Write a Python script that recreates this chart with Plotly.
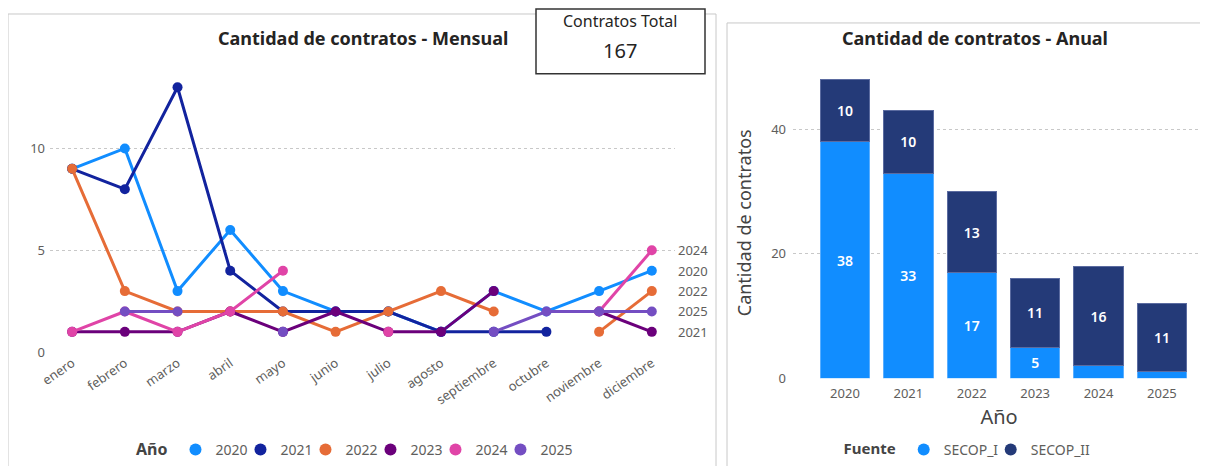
import plotly.graph_objects as go

# la página añade 8 px de margen al body: la figura empieza en (8, 8)
OFF = 8
W, H = 1200, 458

meses = ["enero", "febrero", "marzo", "abril", "mayo", "junio", "julio",
         "agosto", "septiembre", "octubre", "noviembre", "diciembre"]
anios = ["2020", "2021", "2022", "2023", "2024", "2025"]

mensual_2020 = [9, 10, 3, 6, 3, 2, 2, 1, 3, 2, 3, 4]
mensual_2021 = [9, 8, 13, 4, 2, 2, 2, 1, 1, 1, None, None]
mensual_2022 = [9, 3, 2, 2, 2, 1, 2, 3, 2, None, 1, 3]
mensual_2023 = [1, 1, 1, 2, 1, 2, 1, 1, 3, None, 2, 1]
mensual_2024 = [1, 2, 1, 2, 4, None, 1, None, None, None, 2, 5]
mensual_2025 = [None, 2, 2, None, 1, None, None, None, 1, 2, 2, 2]

fuentes = ["SECOP_I", "SECOP_II"]
secop_i = [38, 33, 17, 5, 2, 1]
secop_ii = [10, 10, 13, 11, 16, 11]

colores_anio = ["#118DFF", "#12239E", "#E66C37", "#6B007B", "#E044A7", "#744EC2"]
colores_fuente = ["#118DFF", "#243A78"]

FONT = "Segoe UI, Noto Sans, Open Sans, sans-serif"
GRIS = "#605E5C"
OSCURO = "#252423"


def px(x):
    return (x - OFF) / W


def py(y):
    return 1 - (y - OFF) / H


def texto(x, y, t, size, color=OSCURO):
    fig.add_annotation(x=px(x), y=py(y), xref="paper", yref="paper", text=t,
                       showarrow=False, xanchor="center", yanchor="middle",
                       font=dict(family=FONT, size=size, color=color))


fig = go.Figure()

# ---- mensual (izquierda)
series = [mensual_2020, mensual_2021, mensual_2022, mensual_2023, mensual_2024, mensual_2025]
for i, (anio, vals, c) in enumerate(zip(anios, series, colores_anio)):
    fig.add_trace(go.Scatter(x=meses, y=vals, mode="lines+markers", name=anio,
                             line=dict(color=c, width=3), marker=dict(color=c, size=10),
                             connectgaps=False, cliponaxis=False, showlegend=False,
                             xaxis="x", yaxis="y"))
    # entrada de leyenda (solo círculo); la última necesita sitio para su texto
    fig.add_trace(go.Scatter(x=[None], y=[None], mode="markers", name=anio,
                             marker=dict(color=c, size=12), legend="legend",
                             legendwidth=20 if i < len(anios) - 1 else 40,
                             xaxis="x", yaxis="y"))

# etiquetas al final de cada serie
usados = set()
for anio, vals in zip(anios, series):
    ultimo = [v for v in vals if v is not None][-1]
    if ultimo in usados:
        continue
    usados.add(ultimo)
    fig.add_annotation(x=meses[-1], y=ultimo, xref="x", yref="y", text=anio,
                       showarrow=False, xanchor="left", yanchor="middle", xshift=24,
                       font=dict(family=FONT, size=13, color=GRIS))

# ---- anual (derecha)
txt_i = [str(v) if v >= 5 else "" for v in secop_i]
fig.add_trace(go.Bar(x=anios, y=secop_i, name="SECOP_I", marker_color=colores_fuente[0],
                     marker_line=dict(color="#5AAEFF", width=1),
                     text=txt_i, textposition="inside", insidetextanchor="middle",
                     textfont=dict(family=FONT, size=14, color="white", weight=600),
                     width=0.78, showlegend=False, xaxis="x2", yaxis="y2"))
fig.add_trace(go.Bar(x=anios, y=secop_ii, name="SECOP_II", marker_color=colores_fuente[1],
                     marker_line=dict(color="#5B6BA0", width=1),
                     text=[str(v) for v in secop_ii], textposition="inside",
                     insidetextanchor="middle",
                     textfont=dict(family=FONT, size=14, color="white", weight=600),
                     width=0.78, showlegend=False, xaxis="x2", yaxis="y2"))
for i, (f, c) in enumerate(zip(fuentes, colores_fuente)):
    fig.add_trace(go.Scatter(x=[None], y=[None], mode="markers", name=f,
                             marker=dict(color=c, size=12), legend="legend2",
                             legendwidth=42 if i == 0 else 66,
                             xaxis="x2", yaxis="y2"))

totales = [a + b for a, b in zip(secop_i, secop_ii)]
desplaz_total = [15, 20, 11, 22, 25, 24]
for anio, t, dx in zip(anios, totales, desplaz_total):
    fig.add_annotation(x=anio, y=py(65), xref="x2", yref="paper", text=str(t),
                       showarrow=False, xshift=dx, xanchor="center", yanchor="middle",
                       font=dict(family=FONT, size=12, color=OSCURO))

eje = dict(showline=False, zeroline=False, ticks="", automargin=False,
           tickfont=dict(family=FONT, size=13, color=GRIS))
grid = dict(showgrid=True, gridcolor="#C8C8C8", griddash="dot", gridwidth=1)

fig.update_layout(
    width=W, height=H, margin=dict(l=0, r=0, t=0, b=0),
    paper_bgcolor="white", plot_bgcolor="white",
    font=dict(family=FONT, color=GRIS),
    barmode="stack",
    xaxis=dict(domain=[px(50), px(675)], range=[-0.42, 11.44], showgrid=False,
               tickangle=-35, **eje),
    yaxis=dict(domain=[py(353), py(67)], range=[0, 14], tickvals=[0, 5, 10],
               anchor="x", ticklabelstandoff=4, **grid, **eje),
    xaxis2=dict(domain=[px(793), px(1205)], range=[-0.82, 5.68], showgrid=False,
                anchor="y2", ticklabelstandoff=6,
                title=dict(text="Año", font=dict(family=FONT, size=20, color="#444444"),
                           standoff=8), **eje),
    yaxis2=dict(domain=[py(379), py(67.5)], range=[0, 50], tickvals=[0, 20, 40],
                anchor="x2", ticklabelstandoff=6,
                title=dict(text="Cantidad de contratos",
                           font=dict(family=FONT, size=18, color="#444444"),
                           standoff=14), **grid, **eje),
    legend=dict(orientation="h", x=px(360), xanchor="center", y=py(451), yanchor="middle",
                title=dict(text="<b>Año</b>", font=dict(family=FONT, size=16, color="#444444")),
                font=dict(family=FONT, size=14, color=GRIS), itemwidth=30,
                traceorder="normal", bgcolor="rgba(0,0,0,0)"),
    legend2=dict(orientation="h", x=px(972), xanchor="center", y=py(451), yanchor="middle",
                 title=dict(text="<b>Fuente</b>", font=dict(family=FONT, size=15, color="#444444")),
                 font=dict(family=FONT, size=14, color=GRIS), itemwidth=30,
                 traceorder="normal", bgcolor="rgba(0,0,0,0)"),
)

# marcos de los visuales
fig.add_shape(type="rect", xref="paper", yref="paper", x0=px(8), x1=px(716),
              y0=py(470), y1=py(14), line=dict(color="#C8C8C8", width=1), layer="below")
fig.add_shape(type="rect", xref="paper", yref="paper", x0=px(727), x1=px(1212),
              y0=py(470), y1=py(23), line=dict(color="#C8C8C8", width=1), layer="below")

# tarjeta
fig.add_shape(type="rect", xref="paper", yref="paper", x0=px(536), x1=px(705),
              y0=py(74), y1=py(9), line=dict(color="#333333", width=1.5), fillcolor="white")
texto(620, 21, "Contratos Total", 16)
texto(620, 51, str(sum(totales)), 20)

# títulos
texto(363, 38, "<b>Cantidad de contratos - Mensual</b>", 18)
texto(975, 38, "<b>Cantidad de contratos - Anual</b>", 18)

fig.write_html("out.html")
